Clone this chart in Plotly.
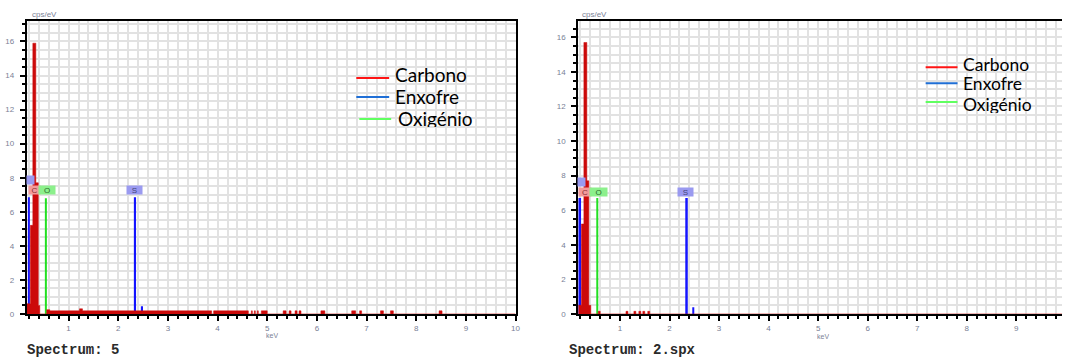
import plotly.graph_objects as go

# ---------------- data ----------------
# Spectrum 5 (left)
carbono_kev_5 = [0.16, 0.23, 0.28, 0.34, 0.39, 0.42, 0.56, 0.62, 1.22, 1.28, 3.88, 3.92,
                 4.62, 4.68, 4.70, 4.74, 4.76, 4.80, 4.82, 4.88, 5.00, 5.32, 5.38, 5.44,
                 5.48, 5.56, 5.60, 5.64, 5.68, 6.08, 6.16, 6.70, 6.78, 6.86, 6.90, 7.28,
                 7.34, 7.48, 7.54, 8.46, 8.52, 10.0]
carbono_cps_5 = [0.6, 5.2, 15.9, 7.7, 0.5, 0.0, 0.25, 0.18, 0.3, 0.18, 0.0, 0.18,
                 0.0, 0.18, 0.0, 0.18, 0.0, 0.18, 0.0, 0.18, 0.0, 0.18, 0.0, 0.18,
                 0.0, 0.18, 0.0, 0.18, 0.0, 0.18, 0.0, 0.18, 0.0, 0.18, 0.0, 0.18,
                 0.0, 0.18, 0.0, 0.18, 0.0, 0.0]
enxofre_kev_5 = [0.20, 0.25, 2.34, 2.48]
enxofre_cps_5 = [6.85, 0.3, 6.85, 0.45]
oxigenio_kev_5 = [0.545]
oxigenio_cps_5 = [6.8]

# Spectrum 2.spx (right)
carbono_kev_2 = [0.157, 0.22, 0.27, 0.33, 0.37, 0.41, 0.56, 0.60, 1.12, 1.16, 1.28, 1.32,
                 1.38, 1.42, 1.46, 1.50, 1.56, 1.60, 9.925]
carbono_cps_2 = [0.5, 5.2, 15.7, 7.7, 0.5, 0.0, 0.15, 0.0, 0.15, 0.0, 0.15, 0.0,
                 0.15, 0.0, 0.15, 0.0, 0.15, 0.0, 0.0]
enxofre_kev_2 = [0.195, 2.35, 2.48]
enxofre_cps_2 = [6.7, 6.7, 0.38]
oxigenio_kev_2 = [0.545]
oxigenio_cps_2 = [6.7]

series_names = ["Carbono", "Enxofre", "Oxigénio"]
y_tick_vals = [0, 2, 4, 6, 8, 10, 12, 14, 16]
x_tick_vals = [1, 2, 3, 4, 5, 6, 7, 8, 9, 10]
spectrum_titles = ["Spectrum: 5", "Spectrum: 2.spx"]

# ---------------- styling ----------------
W, H = 1067, 363
RED, BLUE, GREEN = "#cc0a0a", "#1414ff", "#22e022"
TICKCOL = "#7a7f96"
GRID = "#e2e2e2"


def px(p):
    return p / W


def py(p):
    return 1 - p / H


fig = go.Figure()

panels = [
    dict(xa="x", ya="y", ck=carbono_kev_5, cc=carbono_cps_5, ek=enxofre_kev_5, ec=enxofre_cps_5,
         ok=oxigenio_kev_5, oc=oxigenio_cps_5),
    dict(xa="x2", ya="y2", ck=carbono_kev_2, cc=carbono_cps_2, ek=enxofre_kev_2, ec=enxofre_cps_2,
         ok=oxigenio_kev_2, oc=oxigenio_cps_2),
]

for p in panels:
    fig.add_trace(go.Bar(x=p["ek"], y=p["ec"], width=0.036, marker=dict(color=BLUE, line_width=0),
                         xaxis=p["xa"], yaxis=p["ya"], showlegend=False, name=series_names[1]))
    fig.add_trace(go.Scatter(x=p["ck"], y=p["cc"], mode="lines", line=dict(shape="hv", color=RED, width=0.5),
                             fill="tozeroy", fillcolor=RED, xaxis=p["xa"], yaxis=p["ya"],
                             showlegend=False, name=series_names[0]))
    fig.add_trace(go.Bar(x=p["ok"], y=p["oc"], width=0.03, marker=dict(color=GREEN, line_width=0),
                         xaxis=p["xa"], yaxis=p["ya"], showlegend=False, name=series_names[2]))


def xaxis_cfg(dom, rng, anchor):
    return dict(domain=dom, range=rng, anchor=anchor, tickmode="array", tickvals=x_tick_vals,
                ticks="outside", ticklen=5, tickwidth=1.5, tickcolor="black",
                tickfont=dict(family="Liberation Sans", size=8, color=TICKCOL),
                showgrid=True, gridcolor=GRID, gridwidth=2, zeroline=False,
                showline=True, linecolor="black", linewidth=2, mirror=True,
                minor=dict(dtick=0.2, tick0=0, ticks="outside", ticklen=3, tickwidth=1.5,
                           tickcolor="black", showgrid=True, gridcolor=GRID, gridwidth=2),
                fixedrange=True)


def yaxis_cfg(dom, rng, anchor, mirror):
    return dict(domain=dom, range=rng, anchor=anchor, tickmode="array", tickvals=y_tick_vals,
                ticks="outside", ticklen=5, tickwidth=1.5, tickcolor="black",
                tickfont=dict(family="Liberation Sans", size=8, color=TICKCOL),
                ticklabelstandoff=4,
                showgrid=True, gridcolor=GRID, gridwidth=2, zeroline=False,
                showline=True, linecolor="black", linewidth=2, mirror=mirror,
                minor=dict(dtick=0.5, tick0=0, ticks="outside", ticklen=3, tickwidth=1.5,
                           tickcolor="black", showgrid=True, gridcolor=GRID, gridwidth=2),
                fixedrange=True)


ydom = [1 - 318.3 / H, 1 - 21 / H]
fig.update_layout(
    width=W, height=H, margin=dict(l=0, r=0, t=0, b=0),
    paper_bgcolor="white", plot_bgcolor="white", barmode="overlay", showlegend=False,
    xaxis=xaxis_cfg([px(27), px(518)], [0.16, 10.0], "y"),
    yaxis=yaxis_cfg(ydom, [0, 17.22], "x", True),
    xaxis2=xaxis_cfg([px(581), 1.0], [0.157, 9.925], "y2"),
    yaxis2=yaxis_cfg(ydom, [0, 16.96], "x2", False),
)

ann = []
shapes = []

# element label boxes
boxes = [
    ("x", "y", 0.305, 7.28, "C", "#f39a9a", "#8a3030", 10),
    ("x", "y", 0.57, 7.28, "O", "#8cf08c", "#2c6a2c", 15),
    ("x", "y", 2.317, 7.28, "S", "#9a9af0", "#44447a", 14),
    ("x", "y", 0.225, 7.84, " ", "#9a9af0", "#44447a", 6),
    ("x2", "y2", 0.287, 7.05, "C", "#f39a9a", "#8a3030", 11),
    ("x2", "y2", 0.56, 7.05, "O", "#8cf08c", "#2c6a2c", 16),
    ("x2", "y2", 2.32, 7.05, "S", "#9a9af0", "#44447a", 14),
    ("x2", "y2", 0.23, 7.65, " ", "#9a9af0", "#44447a", 6),
]
for xr, yr, xv, yv, t, bg, fc, w in boxes:
    ann.append(dict(xref=xr, yref=yr, x=xv, y=yv, text=t, showarrow=False, bgcolor=bg,
                    width=w, height=7, borderpad=0.5, font=dict(family="Liberation Sans", size=8, color=fc)))

# axis captions
for xp, yp, t in [(30, 15, "cps/eV"), (583, 15, "cps/eV")]:
    ann.append(dict(xref="paper", yref="paper", x=px(xp), y=py(yp), xanchor="left", yanchor="middle",
                    text=t, showarrow=False, font=dict(family="Liberation Sans", size=8, color=TICKCOL)))
for xp, yp in [(273, 339.5), (827, 340.5)]:
    ann.append(dict(xref="paper", yref="paper", x=px(xp), y=py(yp), xanchor="center", yanchor="middle",
                    text="keV", showarrow=False, height=8,
                    font=dict(family="Liberation Sans", size=7, color=TICKCOL)))

# spectrum titles
for xp, t in [(25, spectrum_titles[0]), (570, spectrum_titles[1])]:
    ann.append(dict(xref="paper", yref="paper", x=px(xp), y=py(355), xanchor="left", yanchor="middle",
                    text="<b>" + t + "</b>", showarrow=False,
                    font=dict(family="Liberation Mono", size=14, color="#2a2a2a")))

# hand-drawn legends
leg_colors = ["#ff1414", "#1f6fd6", "#60ff60"]
legends = [
    # font size, [(line x0, line x1, line y, text x, text y)]
    (19, [(358, 391, 79, 395, 76), (358, 391, 98.3, 395, 97.5), (361, 393, 120.7, 398, 120)]),
    (17.5, [(930, 962, 68.3, 966, 65), (930, 962, 84.3, 966, 85), (930, 962, 103.3, 966, 105.5)]),
]
for fs, leg in legends:
    for (x0, x1, ly, tx, ty), name, col in zip(leg, series_names, leg_colors):
        shapes.append(dict(type="line", xref="paper", yref="paper", x0=px(x0), x1=px(x1),
                           y0=py(ly), y1=py(ly), line=dict(color=col, width=2)))
        ann.append(dict(xref="paper", yref="paper", x=px(tx), y=py(ty), xanchor="left", yanchor="middle",
                        text=name, showarrow=False, height=17,
                        font=dict(family="Lato", size=fs, color="black")))

fig.update_layout(annotations=ann, shapes=shapes)
fig.write_html("out.html")
